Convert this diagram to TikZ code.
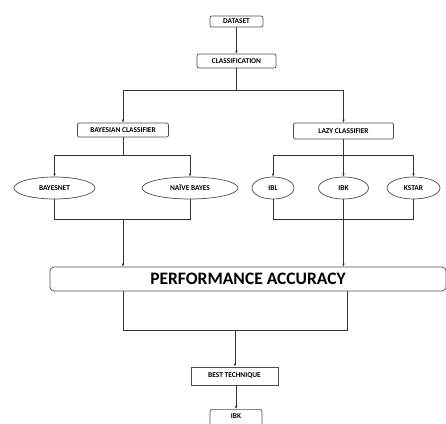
\documentclass[tikz,border=0pt]{standalone}
\usepackage{fontspec}
\setmainfont{Carlito}
\usetikzlibrary{arrows.meta,shapes.geometric}

\tikzset{
  box/.style={draw=black!70, line width=0.7pt, rounded corners=2pt, inner sep=0pt,
    font=\fontsize{7.4}{8}\selectfont\bfseries},
  sharpbox/.style={box, rounded corners=0pt},
  oval/.style={draw=black!70, line width=0.7pt, ellipse, inner sep=0pt,
    minimum height=22pt, font=\fontsize{7.4}{8}\selectfont\bfseries},
  link/.style={draw=black!80, line width=0.7pt},
  arr/.style={link, -{Latex[length=3pt,width=2.6pt]}}
}

\begin{document}
\begin{tikzpicture}[x=1pt,y=-1pt]
    \clip (0,0) rectangle (446,423);
    % top of the tree
    \node[box, minimum width=53pt, minimum height=11pt] (dataset) at (236.5,21.5) {DATASET};
    \node[box, minimum width=79pt, minimum height=14pt] (classif) at (236.5,61) {CLASSIFICATION};
    \coordinate (split) at (236.5,90);
    \node[box, minimum width=91pt, minimum height=14pt] (bayes) at (123,130) {BAYESIAN CLASSIFIER};
    \node[box, minimum width=100pt, minimum height=16pt] (lazy) at (343.5,131) {LAZY CLASSIFIER};

    % the five methods
    \coordinate (bsplit) at (123,155);
    \coordinate (lsplit) at (343.5,155);
    \node[oval, minimum width=81pt] (bnet) at (54.5,188) {BAYESNET};
    \node[oval, minimum width=96pt] (nbayes) at (190,188) {NAÏVE BAYES};
    \node[oval, minimum width=42pt] (ibl) at (273,188) {IBL};
    \node[oval, minimum width=50pt] (ibk) at (343.5,188) {IBK};
    \node[oval, minimum width=53pt] (kstar) at (413.5,188) {KSTAR};
    \coordinate (bjoin) at (123,219);
    \coordinate (ljoin) at (343.5,219);

    % bottom part
    \node[box, minimum width=396pt, minimum height=24pt, rounded corners=4pt,
      font=\fontsize{17.5}{19}\selectfont\bfseries] (perf) at (248,279) {PERFORMANCE ACCURACY};
    \coordinate (pjoin) at (235,330);
    \node[sharpbox, minimum width=87pt, minimum height=18pt] (best) at (234.5,376) {BEST TECHNIQUE};
    \node[box, minimum width=52pt, minimum height=18pt, text depth=0pt,
      anchor=north] (result) at (236,409) {\raisebox{4pt}{IBK}};

    % connectors
    \draw[arr] (dataset) -- (classif);
    \draw[link] (classif.south) -- (split);
    \draw[arr] (split) -| (bayes.north);
    \draw[arr] (split) -| (lazy.north);

    \draw[link] (bayes.south) -- (bsplit);
    \draw[arr] (bsplit) -| (bnet.north);
    \draw[arr] (bsplit) -| (nbayes.north);
    \draw[link] (lazy.south) -- (lsplit);
    \draw[arr] (lsplit) -| (ibl.north);
    \draw[arr] (lsplit) -- (ibk.north);
    \draw[arr] (lsplit) -| (kstar.north);

    \draw[link] (bnet.south) |- (bjoin);
    \draw[link] (nbayes.south) |- (bjoin);
    \draw[link] (ibl.south) |- (ljoin);
    \draw[link] (kstar.south) |- (ljoin);
    \draw[link] (ibk.south) -- (ljoin);
    \draw[arr] (bjoin) -- (perf.north -| bjoin);
    \draw[arr] (ljoin) -- (perf.north -| ljoin);

    \draw[link] (perf.south -| bjoin) |- (pjoin);
    \draw[link] ([xshift=4pt]perf.south -| ljoin) |- (pjoin);
    \draw[arr] (pjoin) -- (best.north -| pjoin);
    \draw[arr] (best.south -| result) -- (result.north);
\end{tikzpicture}
\end{document}
